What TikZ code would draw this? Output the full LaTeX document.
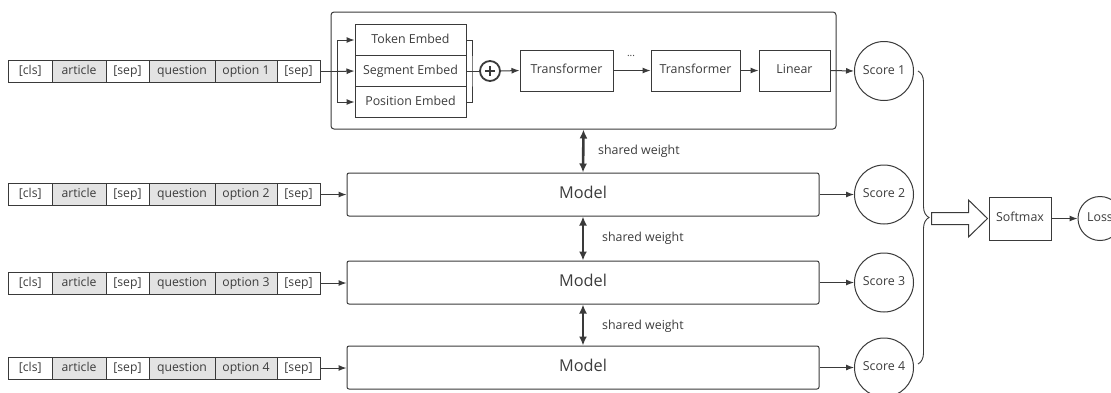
\documentclass[tikz,border=0pt]{standalone}
\usepackage{fontspec}
\setmainfont{Open Sans}
\usetikzlibrary{arrows.meta,decorations.pathreplacing,calc}
\definecolor{ln}{HTML}{3A3A3A}
\definecolor{txt}{HTML}{3C3C3C}
\definecolor{cellgray}{HTML}{E3E3E3}
\newcommand\tokbar[3]{%
  \node[cell, minimum width=43.5] (#1c1) at (30.25,#2) {[cls]};
  \node[gcell, minimum width=54] (#1c2) at (79,#2) {article};
  \node[cell, minimum width=43] (#1c3) at (127.5,#2) {[sep]};
  \node[gcell, minimum width=66] (#1c4) at (182,#2) {question};
  \node[gcell, minimum width=62] (#1c5) at (246,#2) {option #3};
  \node[cell, minimum width=43] (#1c6) at (298.5,#2) {[sep]};
}
\begin{document}
\begin{tikzpicture}[x=1pt,y=-1pt,
  font=\fontsize{12.4}{14}\selectfont, text=txt,
  box/.style={draw=ln, line width=1pt, rectangle, inner sep=0, align=center, text height=9pt, text depth=3pt},
  cell/.style={draw=ln, line width=0.8pt, minimum height=22, inner sep=0, text height=9pt, text depth=3pt, font=\fontsize{12.2}{14}\selectfont},
  gcell/.style={cell, fill=cellgray},
  score/.style={draw=ln, circle, minimum size=59, inner sep=0, line width=1pt, text height=9pt, text depth=3pt},
  modelbox/.style={box, rounded corners=2pt, minimum width=472, minimum height=43, text height=12pt, text depth=4pt, font=\fontsize{16.3}{18}\selectfont},
  arr/.style={draw=ln, line width=1pt, -{Latex[length=8pt,width=6pt]}},
  ln1/.style={draw=ln, line width=1pt},
  dbl/.style={draw=ln, line width=2.6pt, {Latex[length=9pt,width=8pt]}-{Latex[length=9pt,width=8pt]}},
  swlabel/.style={anchor=west, inner sep=0, text height=9pt, text depth=3pt},
]
\clip (0,0) rectangle (1111,392);
\useasboundingbox (0,0) rectangle (1111,392);

% token bars
\tokbar{ra}{71.5}{1}
\tokbar{rb}{194.5}{2}
\tokbar{rc}{283}{3}
\tokbar{rd}{368}{4}

% big model box
\node[box, rounded corners=3pt, minimum width=505, minimum height=117] (bigbox) at (583.5,70.5) {};

% embeddings
\node[box, minimum width=111, minimum height=31] (tok) at (410.5,40) {Token Embed};
\node[box, minimum width=111, minimum height=31] (seg) at (410.5,71) {Segment Embed};
\node[box, minimum width=111, minimum height=31] (pos) at (410.5,102) {Position Embed};

\coordinate (brl) at (337,71.5);
\draw[ln1] (rac6.east) -- (brl);
\draw[arr] (brl) -- (seg.west);
\draw[arr] (brl) |- (tok.west);
\draw[arr] (brl) |- (pos.west);

\node[circle, draw=ln, line width=1.8pt, minimum size=20, inner sep=0,
  path picture={\draw[ln, line width=1.8pt] (path picture bounding box.center) ++(-5,0) -- ++(10,0)
    (path picture bounding box.center) ++(0,-5) -- ++(0,10);}] (plus) at (490,71) {};

\coordinate (brr) at (472,71);
\draw[ln1] (tok.east) -| (brr) |- (pos.east);
\draw[ln1] (seg.east) -- (plus.west);

\node[box, minimum width=93, minimum height=41] (tr1) at (566.5,70.5) {Transformer};
\node[box, minimum width=89, minimum height=41] (tr2) at (695.5,70.5) {Transformer};
\node[box, minimum width=71, minimum height=41] (lin) at (794.5,70.5) {Linear};
\node[font=\fontsize{10}{12}\selectfont, inner sep=0] (dots) at (631,56) {...};

\draw[arr] (plus.east) -- (tr1.west);
\draw[arr] (tr1.east) -- (tr2.west);
\draw[arr] (tr2.east) -- (lin.west);

% models
\node[modelbox] (m2) at (583,194.5) {Model};
\node[modelbox] (m3) at (583,282.5) {Model};
\node[modelbox] (m4) at (583,367.5) {Model};

\draw[arr] (rbc6.east) -- (rbc6.east -| m2.west);
\draw[arr] (rcc6.east) -- (rcc6.east -| m3.west);
\draw[arr] (rdc6.east) -- (rdc6.east -| m4.west);

% shared weights
\draw[dbl] (bigbox.south) -- (m2.north);
\draw[dbl] (m2.south) -- (m3.north);
\draw[dbl] (m3.south) -- (m4.north);
\node[swlabel] (sw1) at (598,151.5) {shared weight};
\node[swlabel] (sw2) at (602,238.5) {shared weight};
\node[swlabel] (sw3) at (602,326) {shared weight};

% scores
\node[score] (s1) at (884,71) {Score 1};
\node[score] (s2) at (884,194.5) {Score 2};
\node[score] (s3) at (884,282.5) {Score 3};
\node[score] (s4) at (884,367.5) {Score 4};

\draw[arr] (lin.east) -- (s1.west);
\draw[arr] (m2.east) -- (s2.west);
\draw[arr] (m3.east) -- (s3.west);
\draw[arr] (m4.east) -- (s4.west);

% brace
\coordinate (bt) at (918,71);
\coordinate (bb) at (918,364);
\draw[ln1, line width=0.9pt, decorate, decoration={brace, amplitude=11pt}] (bt) -- (bb);

% softmax and loss
\node[box, minimum width=62, minimum height=43] (sm) at (1020,218.5) {Softmax};
\node[score, minimum size=44] (loss) at (1100,218.5) {Loss};
\draw[arr] (sm.east) -- (loss.west);

% hollow arrow
\draw[ln1, line join=miter] ($(sm.west)+(-57,-6)$) -- ++(37,0) -- ++(0,-12.5) -- ($(sm.west)+(-1,0)$)
  -- ++(-19,18.5) -- ++(0,-12.5) -- ++(-37,0) -- cycle;
\end{tikzpicture}
\end{document}
